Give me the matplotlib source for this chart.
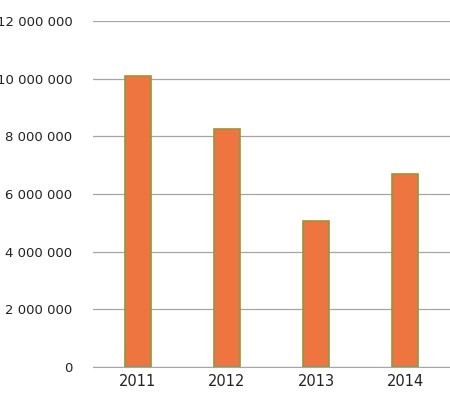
import matplotlib
matplotlib.use("Agg")
import matplotlib.pyplot as plt

years = ["2011", "2012", "2013", "2014"]
values = [10100000, 8260000, 5050000, 6700000]
yticks = [0, 2000000, 4000000, 6000000, 8000000, 10000000, 12000000]
ytick_labels = ["0", "2 000 000", "4 000 000", "6 000 000", "8 000 000", "10 000 000", "12 000 000"]

fig = plt.figure(figsize=(4.5, 4.11), dpi=100)
ax = fig.add_axes([0.207, 0.107, 0.793, 0.842])
x = range(len(years))
ax.bar(x, values, width=0.29, color="#EE7540", edgecolor="#8E9A3C", linewidth=1.2, zorder=3)
ax.set_ylim(0, 12000000)
ax.set_xlim(-0.5, 3.5)
ax.set_yticks(yticks)
ax.set_yticklabels(ytick_labels, fontsize=9.5)
ax.set_xticks(list(x))
ax.set_xticklabels(years, fontsize=10.5)
ax.grid(axis="y", color="#A6A6A6", linewidth=0.9, zorder=0)
for s in ["top", "right", "left"]:
    ax.spines[s].set_visible(False)
ax.spines["bottom"].set_color("#A6A6A6")
ax.tick_params(axis="both", length=0, colors="#222222")
ax.tick_params(axis="y", pad=15)
ax.tick_params(axis="x", pad=5)
fig.savefig("out.png", dpi=100)
